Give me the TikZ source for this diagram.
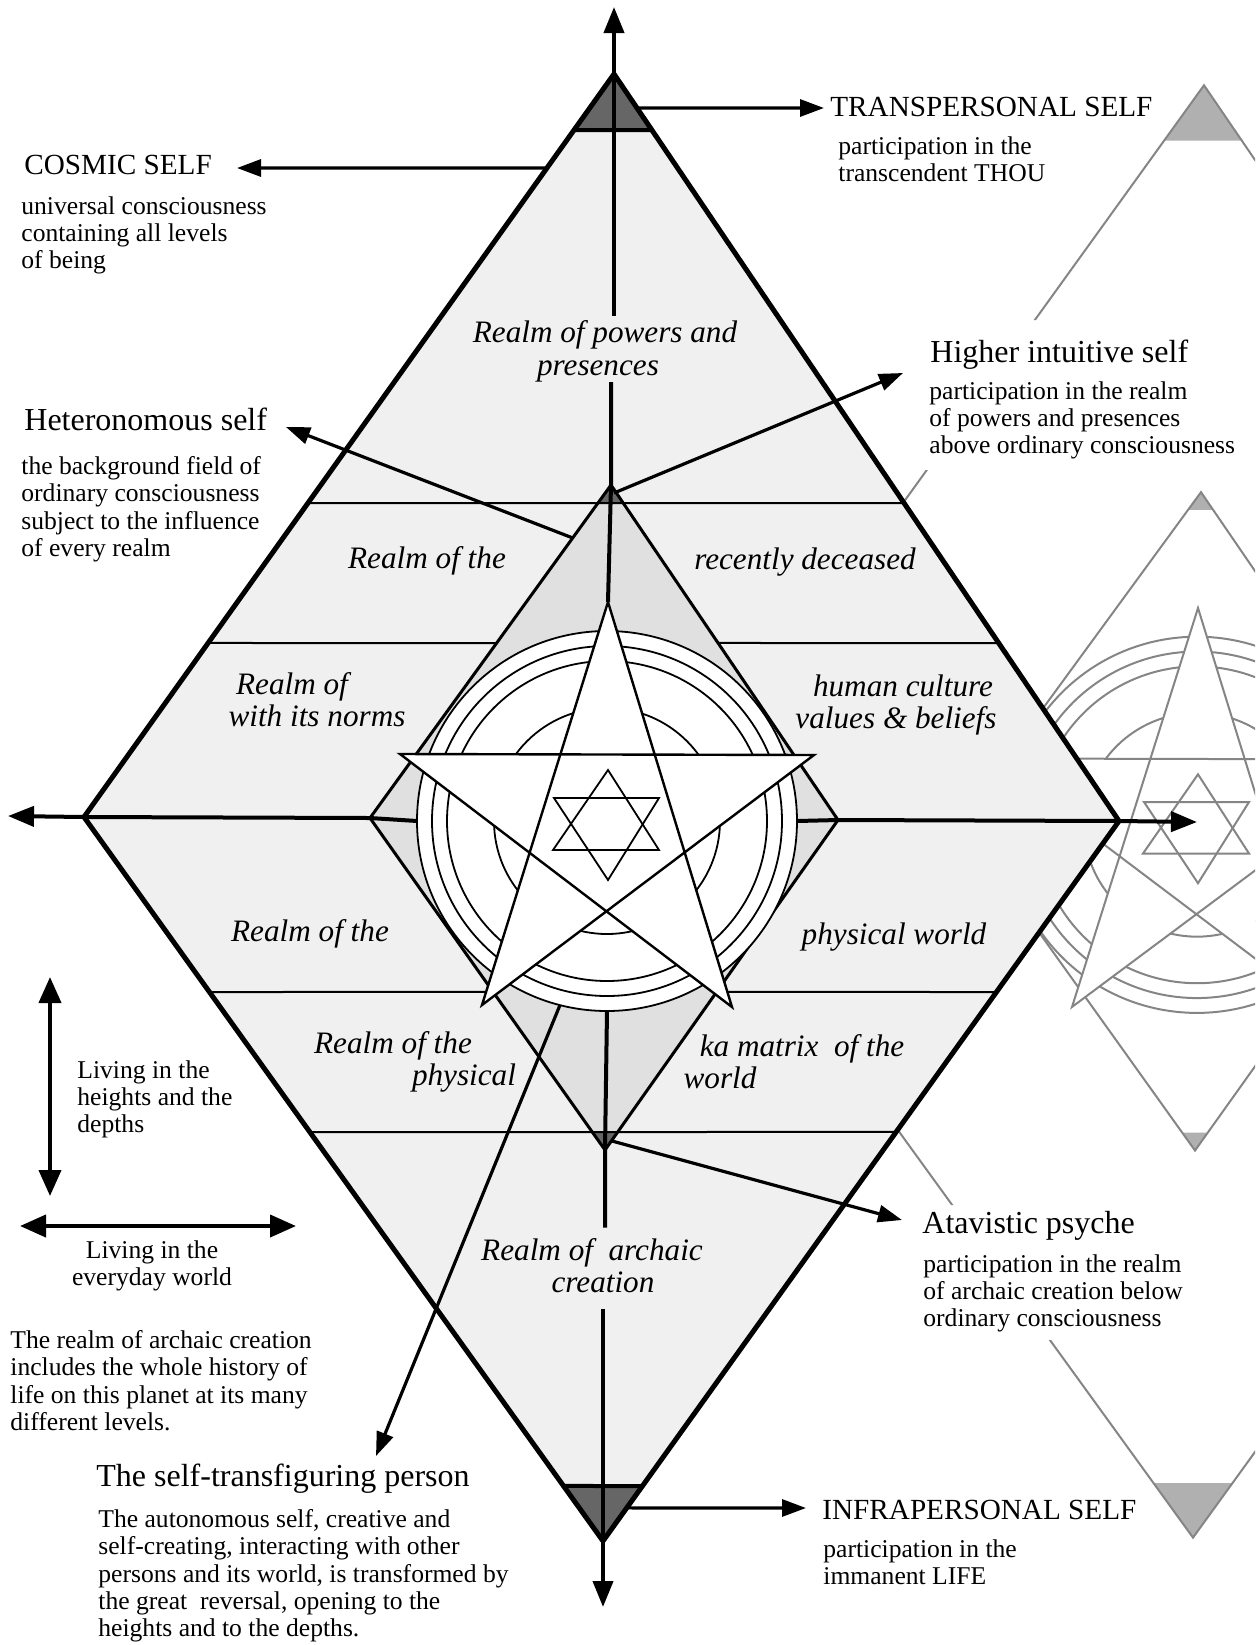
\documentclass[tikz,border=0pt]{standalone}
\usepackage{fontspec}
\setmainfont{Liberation Serif}
\usetikzlibrary{arrows.meta,calc}

\definecolor{stipple}{HTML}{F0F0F0}
\definecolor{stippledark}{HTML}{E0E0E0}
\definecolor{tipshade}{HTML}{666666}
\definecolor{ghostline}{HTML}{858585}
\definecolor{ghostshade}{HTML}{B0B0B0}

\begin{document}
\begin{tikzpicture}[x=0.5pt, y=-0.5pt,
  every node/.style={inner sep=0pt},
  rim/.style={line width=2.5pt, line join=round},
  axis/.style={line width=2pt},
  axisarrow/.style={axis, -{Triangle[length=13pt,width=10pt]}},
  band/.style={line width=1pt},
  kite/.style={line width=1.5pt, line join=round},
  ring/.style={line width=0.9pt},
  star/.style={line width=1.2pt, line join=miter},
  arrow/.style={-{Triangle[length=12pt,width=8.5pt]}, line width=1.6pt},
  twoway/.style={{Triangle[length=13pt,width=11pt]}-{Triangle[length=13pt,width=11pt]}, line width=2pt},
  ghost/.style={draw=ghostline, line width=1pt},
  title/.style={anchor=base west, font=\fontsize{16}{19}\selectfont},
  caps/.style={anchor=base west, font=\fontsize{14.6}{18}\selectfont},
  body/.style={anchor=north west, align=left, font=\fontsize{12.8}{13.65}\selectfont},
  realm/.style={anchor=base, font=\fontsize{15.6}{19}\selectfont\itshape},
]

\useasboundingbox (0,0) rectangle (1255,1645);

% corners of the two diamonds, centre of the rings
\coordinate (T) at (614,74);
\coordinate (L) at (84,817);
\coordinate (R) at (1119,821);
\coordinate (B) at (603,1541);
\coordinate (iT) at (611,485);
\coordinate (iL) at (370,818);
\coordinate (iR) at (838,820);
\coordinate (iB) at (605,1150);
\coordinate (C) at (607,821);
\coordinate (apexUp) at (614,493);
\coordinate (apexDown) at (612,1141);

% faint figure showing through from the back of the page
\begin{scope}
  \clip (T) -- (R) -- (B) -- (1255,1645) -- (1255,0) -- cycle;
  \clip (1025,60) rectangle (1255,320)
        (895,470) rectangle (1255,1205)
        (1030,1340) rectangle (1255,1645);
  \begin{scope}[shift={(590,12)}, yscale=0.99, ghost]
    \fill[ghostshade] (614,74) -- (652,130) -- (574,130) -- cycle;
    \fill[ghostshade] (603,1541) -- (642,1486) -- (564,1486) -- cycle;
    \fill[ghostshade] (611,485) -- (623,503) -- (598,503) -- cycle;
    \fill[ghostshade] (605,1150) -- (618,1132) -- (592,1132) -- cycle;
    \draw (614,74) -- (1119,821) -- (603,1541) -- (84,817) -- cycle;
    \draw (611,485) -- (838,820) -- (605,1150) -- (370,818) -- cycle;
    \foreach \r in {190,175,160,113}
      \draw (607,821) circle[radius=\r];
    \filldraw[fill=white] (608,602) -- (732,1007) -- (400,754) -- (814,755) -- (482,1005) -- cycle;
    \draw (608,770) -- (659,850) -- (553,850) -- cycle;
    \draw (608,880) -- (659,798) -- (554,798) -- cycle;
  \end{scope}
\end{scope}

% shaded fields
\fill[stipple] (T) -- (R) -- (B) -- (L) -- cycle;
\fill[stippledark] (iT) -- (iR) -- (iB) -- (iL) -- cycle;
\fill[tipshade] (T) -- ($(T)!0.075!(R)$) -- ($(T)!0.0754!(L)$) -- cycle;
\fill[tipshade] (B) -- ($(R)!0.9236!(B)$) -- ($(L)!0.924!(B)$) -- cycle;
\fill[tipshade] (iT) -- ($(iT)!0.0537!(iR)$) -- ($(iT)!0.054!(iL)$) -- cycle;
\fill[tipshade] (iB) -- ($(iR)!0.9455!(iB)$) -- ($(iL)!0.9458!(iB)$) -- cycle;

% realm labels
\node[realm] (powersA) at (605,342) {Realm of powers and};
\node[realm] (powersB) at (598,375) {presences};
\node[realm] (deceasedL) at (427,568) {Realm of the};
\node[realm] (deceasedR) at (805,569) {recently deceased};
\node[realm] (cultureL1) at (292,694) {Realm of};
\node[realm] (cultureL2) at (317,726) {with its norms};
\node[realm] (cultureR1) at (903,696) {human culture};
\node[realm] (cultureR2) at (896,728) {values \& beliefs};
\node[realm] (physL) at (310,941) {Realm of the};
\node[realm] (physR) at (894,944) {physical world};
\node[realm] (kaL1) at (393,1053) {Realm of the};
\node[realm] (kaL2) at (464,1085) {physical};
\node[realm] (kaR1) at (802,1056) {ka matrix~ of the};
\node[realm] (kaR2) at (720,1088) {world};
\node[realm] (archaicA) at (592,1260) {Realm of~ archaic};
\node[realm] (archaicB) at (603,1292) {creation};

% bands between the realms
\draw[band] ($(T)!0.5774!(L)$) -- ($(T)!0.5743!(R)$);
\draw[band] ($(T)!0.7658!(L)$) -- ($(iT)!0.4745!(iL)$);
\draw[band] ($(iT)!0.4716!(iR)$) -- ($(T)!0.7617!(R)$);
\draw[band] ($(L)!0.2417!(B)$) -- ($(iL)!0.524!(iB)$);
\draw[band] ($(iR)!0.521!(iB)$) -- ($(R)!0.2375!(B)$);
\draw[band] ($(L)!0.4351!(B)$) -- ($(R)!0.4319!(B)$);

\draw[kite] (iT) -- (iR) -- (iB) -- (iL) -- cycle;

% axes
\coordinate (topTip) at (614,7);
\coordinate (botTip) at (603,1607);
\coordinate (leftTip) at (8,816);
\coordinate (rightTip) at (1197,822);
\draw[axisarrow, shorten <=2pt] (T |- powersA.north) -- (topTip);
\draw[axis] (iT |- powersB.south) -- (iT) -- (608,602);
\draw[axis, shorten >=5pt] ($(C)+(0,190)$) -- (iB) -- (iB |- archaicA.north);
\draw[axisarrow, shorten <=8pt] (B |- archaicB.south) -- (botTip);
\draw[axisarrow] ($(C)+(-190,0)$) -- (iL) -- (L) -- (leftTip);
\draw[axisarrow] ($(C)+(190,0)$) -- (iR) -- (R) -- (rightTip);

% rings, pentagram and hexagram
\filldraw[ring, fill=white] (C) circle[radius=190];
\foreach \r in {175,160,113}
  \draw[ring] (C) circle[radius=\r];
\filldraw[star, fill=white] (608,602) -- (732,1007) -- (400,754) -- (814,755) -- (482,1005) -- cycle;
\draw[ring] (608,770) -- (659,850) -- (553,850) -- cycle;
\draw[ring] (608,880) -- (659,798) -- (554,798) -- cycle;

% outer diamond
\draw[rim] (T) -- (R) -- (B) -- (L) -- cycle;
\draw[axis] ($(T)!0.075!(R)$) -- ($(T)!0.0754!(L)$);
\draw[axis] ($(R)!0.9236!(B)$) -- ($(L)!0.924!(B)$);

% the selves
\node[caps] (cosmic) at (24,174) {COSMIC SELF};
\node[body] (cosmicText) at (21,196) {universal consciousness\\containing all levels\\of being};
\node[title] (heter) at (24,430) {Heteronomous self};
\node[body] (heterText) at (21,456) {the background field of\\ordinary consciousness\\subject to the influence\\of every realm};
\node[caps] (trans) at (830,116) {TRANSPERSONAL SELF};
\node[body] (transText) at (838,136) {participation in the\\transcendent THOU};
\node[title] (higher) at (930,362) {Higher intuitive self};
\node[body] (higherText) at (929,381) {participation in the realm\\of powers and presences\\above ordinary consciousness};
\node[title] (atav) at (922,1233) {Atavistic psyche};
\node[body] (atavText) at (923,1254) {participation in the realm\\of archaic creation below\\ordinary consciousness};
\node[caps] (infra) at (822,1519) {INFRAPERSONAL SELF};
\node[body] (infraText) at (823,1539) {participation in the\\immanent LIFE};
\node[title] (transf) at (96,1486) {The self-transfiguring person};
\node[body] (transfText) at (98,1509) {The autonomous self, creative and\\self-creating, interacting with other\\persons and its world, is transformed by\\the great~ reversal, opening to the\\heights and to the depths.};
\node[body] (heights) at (77,1060) {Living in the\\heights and the\\depths};
\node[body, anchor=north, align=center] (everyday) at (152,1240) {Living in the\\everyday world};
\node[body] (archaicNote) at (10,1330) {The realm of archaic creation\\includes the whole history of\\life on this planet at its many\\different levels.};

% pointers to the selves
\coordinate (cosmicTip) at (237,168);
\coordinate (transTip) at (824,108);
\coordinate (heterTip) at (286,427);
\coordinate (higherTip) at (903,373);
\coordinate (atavTip) at (902,1220);
\coordinate (transfTip) at (376,1456);
\coordinate (infraTip) at (806,1508);
\draw[arrow] ($(T)!0.1265!(L)$) -- (cosmicTip);
\draw[arrow] ($(T)!0.0455!(R)$) -- (transTip);
\draw[arrow] ($(iT)!0.159!(iL)$) -- (heterTip);
\draw[arrow] (apexUp) -- (higherTip);
\draw[arrow] (apexDown) -- (atavTip);
\draw[arrow] ($(C)+(-47,184)$) -- (transfTip);
\draw[arrow] ($(R)!0.954!(B)$) -- (infraTip);

% heights and depths, everyday world
\coordinate (upEnd) at (50,977);
\coordinate (downEnd) at (50,1196);
\coordinate (leftEnd) at (20,1226);
\coordinate (rightEnd) at (296,1226);
\draw[twoway] (upEnd) -- (downEnd);
\draw[twoway] (leftEnd) -- (rightEnd);

\end{tikzpicture}
\end{document}
